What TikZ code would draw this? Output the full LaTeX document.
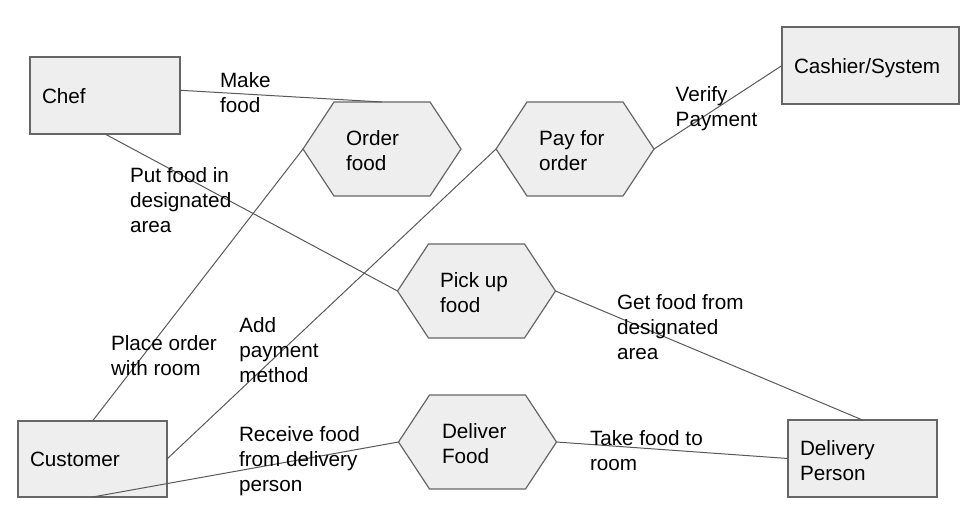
\documentclass[tikz,border=0pt]{standalone}
\usepackage{fontspec}
\setmainfont{Liberation Sans}
\begin{document}
\begin{tikzpicture}[x=1pt,y=-1pt,
  box/.style={draw=shapeline, fill=shapefill, line width=1.2pt, inner sep=0pt, outer sep=0pt},
  hexbox/.style={minimum width=158pt, minimum height=94pt, inner sep=0pt, outer sep=0pt},
  hexline/.style={draw=shapeline, fill=shapefill, line width=1.2pt, line join=miter},
  conn/.style={draw=connline, line width=1pt},
  lbl/.style={anchor=base west, align=left, inner sep=0pt, outer sep=0pt, text=black,
    font=\fontsize{20.7}{25}\selectfont}]
\definecolor{shapefill}{HTML}{EEEEEE}
\definecolor{shapeline}{HTML}{666666}
\definecolor{connline}{HTML}{595959}
\useasboundingbox (0,0) rectangle (971,517);

% shape anchors
\node[box, minimum width=150pt, minimum height=77pt, draw=none, fill=none] (chef) at (105,95.5) {};
\node[box, minimum width=177pt, minimum height=77pt, draw=none, fill=none] (cashier) at (870.5,65.5) {};
\node[box, minimum width=149pt, minimum height=76pt, draw=none, fill=none] (customer) at (92.5,459) {};
\node[box, minimum width=149pt, minimum height=77pt, draw=none, fill=none] (dp) at (862.5,458.5) {};
\node[hexbox] (order) at (382,149) {};
\node[hexbox] (pay) at (575,149) {};
\node[hexbox] (pick) at (476.5,291) {};
\node[hexbox] (deliver) at (477.5,442) {};

% boxes
\foreach \n in {chef,cashier,customer,dp}{
  \draw[box] (\n.north west) rectangle (\n.south east);
}
% hexagons
\foreach \n in {order,pay,pick,deliver}{
  \draw[hexline] (\n.west) -- ([xshift=31pt]\n.north west) -- ([xshift=-31pt]\n.north east)
    -- (\n.east) -- ([xshift=-31pt]\n.south east) -- ([xshift=31pt]\n.south west) -- cycle;
}

% connectors
\draw[conn] (chef.4) -- (order.north);
\draw[conn] (chef.south) -- (pick.west);
\draw[conn] (customer.north) -- (order.west);
\draw[conn] (customer.east) -- (pay.west);
\draw[conn] (customer.south) -- (deliver.west);
\draw[conn] (pay.east) -- (cashier.west);
\draw[conn] (pick.east) -- (dp.north);
\draw[conn] (deliver.east) -- (dp.west);

% texts in shapes (anchored at baseline of last line)
\node[lbl] (tchef) at (42,103.3) {Chef};
\node[lbl] (tcashier) at (794,73.3) {Cashier/System};
\node[lbl] (tcustomer) at (30,466.7) {Customer};
\node[lbl] (tdp) at (800,480) {Delivery\\Person};
\node[lbl] (torder) at (346,170.3) {Order\\food};
\node[lbl] (tpay) at (539,170.7) {Pay for\\order};
\node[lbl] (tpick) at (440,312) {Pick up\\food};
\node[lbl] (tdeliver) at (442,463) {Deliver\\Food};

% connector labels
\node[lbl] (lmake) at (220,112.7) {Make\\food};
\node[lbl] (lput) at (130,232.7) {Put food in\\designated\\area};
\node[lbl] (lverify) at (675.7,126.7) {Verify\\Payment};
\node[lbl] (lget) at (617,359) {Get food from\\designated\\area};
\node[lbl] (lplace) at (111,375.7) {Place order\\with room};
\node[lbl] (ladd) at (239.3,382.7) {Add\\payment\\method};
\node[lbl] (lreceive) at (239,491) {Receive food\\from delivery\\person};
\node[lbl] (ltake) at (590,470) {Take food to\\room};
\end{tikzpicture}
\end{document}
